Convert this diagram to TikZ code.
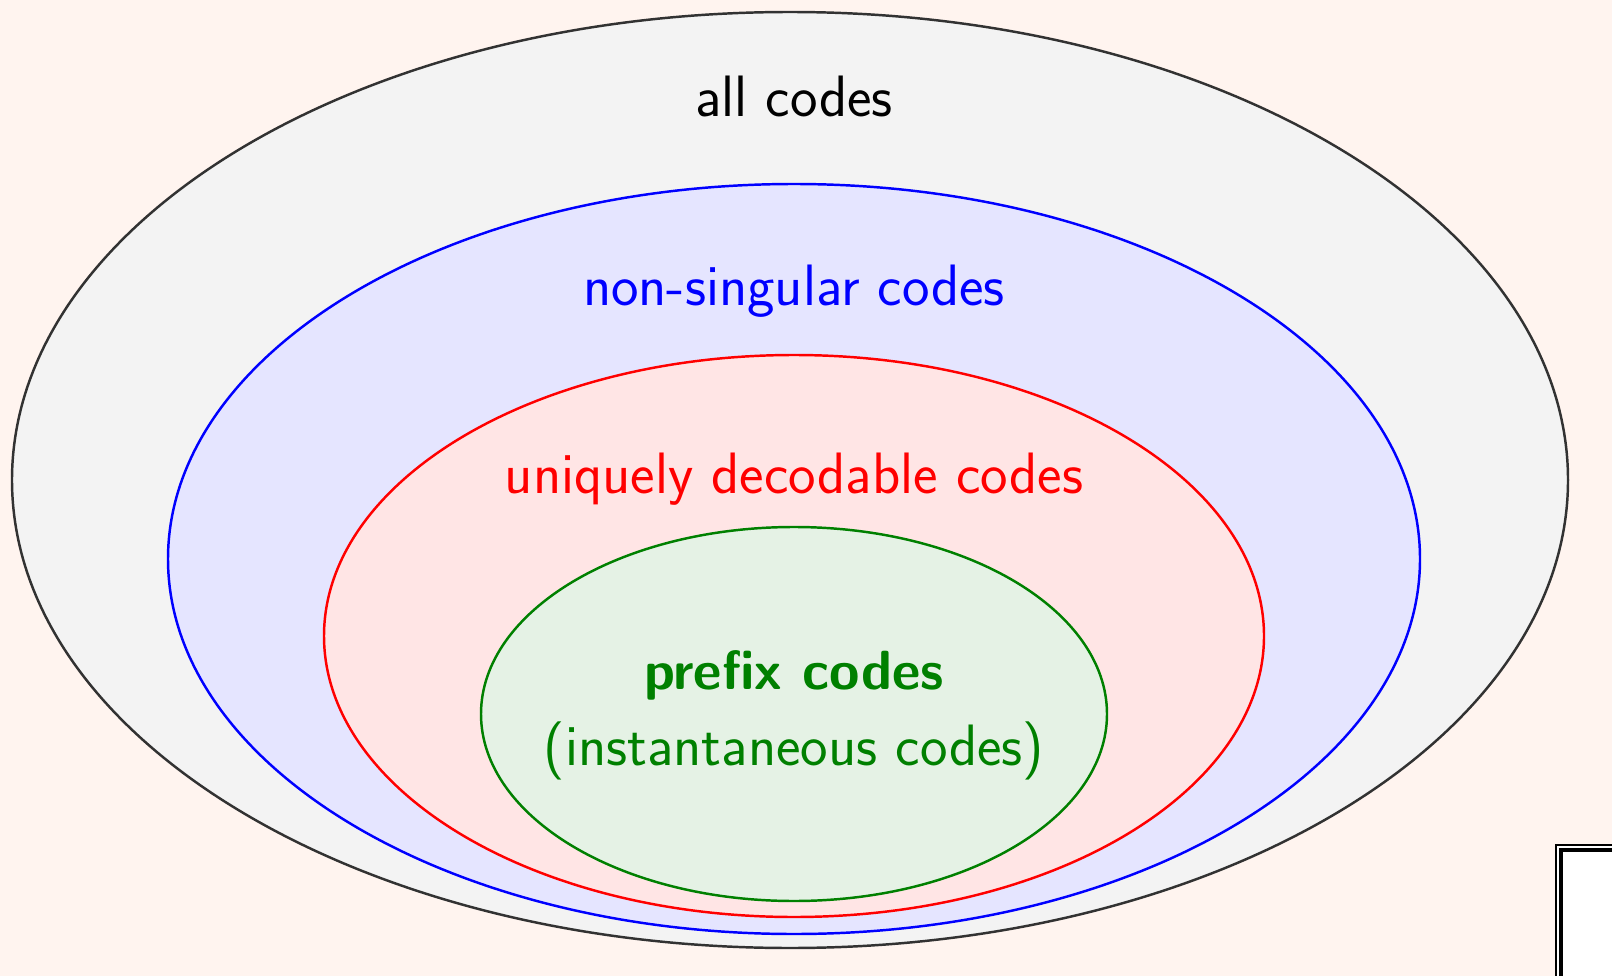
\documentclass[tikz,border=0pt]{standalone}
\usepackage{fontspec}
\begin{document}
\begin{tikzpicture}[x=0.01cm,y=-0.01cm,
  setbox/.style={line width=0.7pt},
  lbl/.style={anchor=base,inner sep=0pt,font=\sffamily\fontsize{16.6}{20}\selectfont}]
\definecolor{bgc}{RGB}{255,244,239}
\definecolor{allfill}{RGB}{243,243,243}
\definecolor{allline}{RGB}{50,50,50}
\definecolor{grn}{RGB}{0,128,0}
\fill[bgc] (0,0) rectangle (1612,976);
\useasboundingbox (0,0) rectangle (1612,976);
\begin{scope}
\clip (0,0) rectangle (1612,976);
\filldraw[setbox,draw=allline,fill=allfill] (790,480) ellipse [x radius=778, y radius=468];
\filldraw[setbox,draw=blue,fill=blue!10] (794,559) ellipse [x radius=626, y radius=375];
\filldraw[setbox,draw=red,fill=red!10] (794,636) ellipse [x radius=470, y radius=281];
\filldraw[setbox,draw=grn,fill=grn!10] (794,714) ellipse [x radius=313, y radius=187];
\draw[line width=0.3pt,fill=white] (1556,845) rectangle (1640,1000);
\draw[line width=1.2pt] (1561,850) rectangle (1640,1000);
\end{scope}
\node[lbl,text=black] (all) at (794,117) {all codes};
\node[lbl,text=blue] (ns) at (794,305) {non-singular codes};
\node[lbl,text=red] (ud) at (794,493) {uniquely decodable codes};
\node[lbl,text=grn,font=\sffamily\bfseries\fontsize{15.7}{19}\selectfont] (pf) at (794,689) {prefix codes};
\node[lbl,text=grn] (inst) at (794,765) {(instantaneous codes)};
\end{tikzpicture}
\end{document}
